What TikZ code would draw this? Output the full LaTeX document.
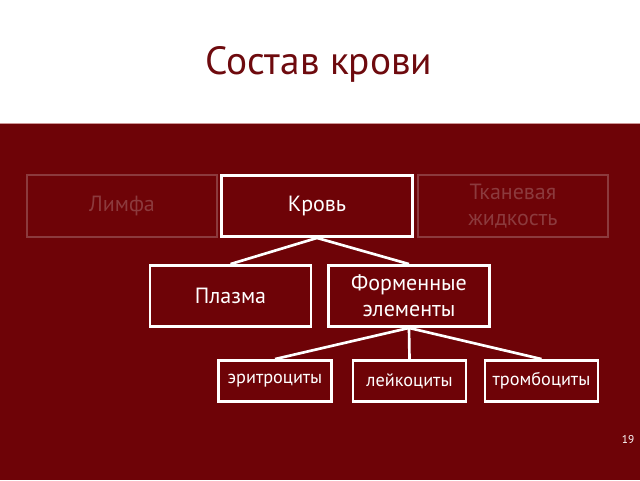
\documentclass[tikz,border=0pt]{standalone}
\usepackage{fontspec}
\setmainfont{PT Sans}
\usepackage{tikz}
\usepackage{xcolor}

\definecolor{bloodred}{RGB}{110,3,7}
\definecolor{fadedred}{RGB}{140,58,61}
\definecolor{titlered}{RGB}{110,10,14}

\tikzset{
  whitebox/.style={draw=white, line width=1.9pt, minimum width=143pt, minimum height=46pt, text=white, align=center, font=\fontsize{16.5}{19.5}\selectfont, inner sep=0pt},
  fadedbox/.style={whitebox, draw=fadedred, line width=1.5pt, text=fadedred},
  midbox/.style={whitebox, minimum width=121pt},
  smallbox/.style={whitebox, minimum width=85pt, minimum height=31pt, font=\fontsize{13.7}{15}\selectfont},
  link/.style={draw=white, line width=2pt}
}

\begin{document}
\begin{tikzpicture}[x=0.75pt,y=0.75pt,yscale=-1,xscale=1]
\useasboundingbox (0,0) rectangle (640,480);

%Background
\fill [white] (0,0) rectangle (640,123);
\fill [bloodred] (0,123) rectangle (640,480);
\draw [color={rgb, 255:red, 205; green, 150; blue, 150 }, line width=0.6pt] (0,123.5) -- (640,123.5);

% Title
\node (title) at (319,64) [font=\fontsize{29.5}{32}\selectfont, text=titlered] {Состав крови};

%Top row
\node (lymph) at (122,206) [fadedbox] {Лимфа};
\node (blood) at (317,206) [whitebox] {Кровь};
\node (tissue) at (513,206) [fadedbox] {Тканевая\\жидкость};

%Second row
\node (plasma) at (230.5,296) [midbox] {Плазма};
\node (formed) at (409,296) [midbox] {Форменные\\элементы};

%Third row
\node (erythro) at (275,381) [smallbox] {эритроциты};
\node (leuko) at (409.5,381) [smallbox] {лейкоциты};
\node (thrombo) at (541.5,381) [smallbox] {тромбоциты};

%Connectors
\draw [link] (blood.south) -- (plasma.north);
\draw [link] (blood.south) -- (formed.north);
\draw [link] (formed.south) -- (erythro.north);
\draw [link] (formed.south) -- (leuko.north);
\draw [link] (formed.south) -- (thrombo.north);

% Page number
\node (pagenum) at (628,440) [text=white, font=\fontsize{8.5}{9}\selectfont] {19};

\end{tikzpicture}
\end{document}
